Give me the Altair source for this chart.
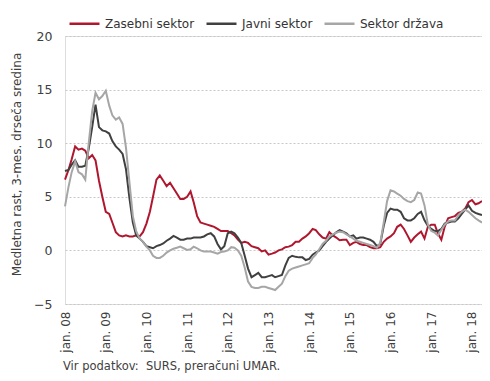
import altair as alt
import pandas as pd

# Monthly data, Jan 2008 - Apr 2018
start_month = "2008-01-01"
end_month = "2018-04-01"

zasebni = [6.6, 7.5, 8.5, 9.7, 9.4, 9.5, 9.3, 8.6, 8.9, 8.4, 6.5, 5.0,
           3.6, 3.4, 2.6, 1.7, 1.4, 1.3, 1.4, 1.3, 1.3, 1.4, 1.3, 1.7,
           2.5, 3.6, 5.0, 6.6, 7.0, 6.5, 6.0, 6.3, 5.8, 5.3, 4.8, 4.8,
           5.0, 5.5, 4.5, 3.2, 2.6, 2.5, 2.4, 2.3, 2.2, 2.0, 1.8, 1.8,
           1.8, 1.6, 1.4, 1.0, 0.7, 0.8, 0.7, 0.4, 0.3, 0.2, -0.1, 0.0,
           -0.4, -0.3, -0.2, 0.0, 0.1, 0.3, 0.35, 0.5, 0.8, 0.8, 1.1, 1.3,
           1.6, 2.0, 1.9, 1.5, 1.2, 1.1, 1.7, 1.4, 1.2, 0.95, 1.0, 1.0,
           0.5, 0.7, 0.8, 0.6, 0.5, 0.5, 0.3, 0.2, 0.2, 0.3, 0.8, 1.1,
           1.3, 1.6, 2.2, 2.4, 2.0, 1.4, 0.8, 1.2, 1.5, 1.75, 1.1, 2.2,
           2.4, 2.4, 1.6, 1.0, 2.2, 3.0, 3.1, 3.2, 3.5, 3.6, 3.9, 4.5,
           4.7, 4.3, 4.4, 4.6]

javni = [7.4, 7.5, 8.0, 8.4, 7.8, 7.8, 7.9, 9.5, 11.5, 13.6, 11.5, 11.2,
         11.1, 10.9, 10.2, 9.7, 9.4, 9.0, 7.6, 4.9, 2.6, 1.4, 1.1, 0.8,
         0.4, 0.3, 0.2, 0.4, 0.5, 0.65, 0.9, 1.1, 1.35, 1.2, 1.0, 1.0,
         1.1, 1.1, 1.2, 1.2, 1.2, 1.3, 1.5, 1.6, 1.3, 0.6, 0.1, 0.4,
         1.6, 1.75, 1.6, 1.2, 0.7, -0.5, -1.7, -2.5, -2.3, -2.1, -2.5, -2.5,
         -2.4, -2.3, -2.5, -2.4, -2.3, -1.4, -0.7, -0.5, -0.6, -0.65, -0.65, -0.9,
         -0.8, -0.4, -0.2, 0.0, 0.4, 0.8, 1.1, 1.4, 1.7, 1.9, 1.75, 1.6,
         1.3, 1.4, 1.1, 1.2, 1.2, 1.1, 1.0, 0.8, 0.4, 0.6, 2.3, 3.5,
         3.9, 3.8, 3.8, 3.6, 3.0, 2.8, 2.8, 3.0, 3.4, 3.6, 2.8, 2.3,
         2.0, 1.8, 1.8, 2.0, 2.5, 2.6, 2.7, 2.7, 3.0, 3.4, 3.8, 4.2,
         3.7, 3.5, 3.4, 3.3]

drzava = [4.1, 5.9, 7.3, 8.3, 7.3, 7.1, 6.6, 10.0, 13.0, 14.7, 14.1, 14.4,
          14.9, 13.5, 12.6, 12.2, 12.4, 11.8, 9.6, 6.4, 3.2, 1.8, 1.1, 0.8,
          0.35, 0.0, -0.5, -0.7, -0.7, -0.5, -0.2, 0.0, 0.15, 0.25, 0.35, 0.2,
          0.05, 0.1, 0.35, 0.2, 0.0, -0.1, -0.1, -0.1, -0.2, -0.3, -0.15, -0.1,
          0.0, 0.3, 0.25, 0.0, -0.5, -1.6, -2.9, -3.4, -3.5, -3.5, -3.4, -3.4,
          -3.5, -3.6, -3.7, -3.4, -3.1, -2.4, -1.9, -1.7, -1.6, -1.5, -1.4, -1.3,
          -1.2, -0.7, -0.4, 0.1, 0.6, 0.9, 1.3, 1.5, 1.65, 1.75, 1.7, 1.5,
          1.3, 1.1, 0.9, 0.8, 0.7, 0.6, 0.5, 0.4, 0.25, 0.7, 2.6, 4.6,
          5.6, 5.5, 5.3, 5.1, 4.8, 4.6, 4.5, 4.7, 5.4, 5.3, 4.2, 2.4,
          1.8, 1.65, 1.4, 1.9, 2.4, 2.7, 2.8, 2.8, 3.3, 3.6, 3.8, 3.6,
          3.3, 3.0, 2.8, 2.6]

series_names = ["Zasebni sektor", "Javni sektor", "Sektor država"]
series_colors = ["#b0172f", "#404040", "#a6a6a6"]
y_ticks = [-5, 0, 5, 10, 15, 20]
tick_years = list(range(2008, 2019))
y_title = "Medletna rast, 3-mes. drseča sredina"
source_text = "Vir podatkov:\u00a0 SURS, preračuni UMAR."

months = pd.date_range(start_month, end_month, freq="MS")
rows = []
for name, vals in zip(series_names, [zasebni, javni, drzava]):
    for d, v in zip(months, vals):
        rows.append({"date": d, "value": v, "series": name, "order": series_names.index(name)})
df = pd.DataFrame(rows)

FONT = "DejaVu Sans"

lines = alt.Chart(df).mark_line(strokeWidth=2).encode(
    x=alt.X(
        "date:T",
        scale=alt.Scale(domain=[alt.DateTime(year=2008, month=1, date=1),
                                alt.DateTime(year=2018, month=4, date=1)]),
        axis=alt.Axis(
            values=[alt.DateTime(year=y, month=1, date=1) for y in tick_years],
            format="jan. %y",
            labelAngle=270,
            labelFontSize=12,
            labelColor="#404040",
            labelPadding=7,
            ticks=False,
            grid=False,
            domain=False,
            title=None,
            labelFont=FONT,
        ),
    ),
    y=alt.Y(
        "value:Q",
        scale=alt.Scale(domain=[-5, 20], nice=False),
        axis=alt.Axis(
            values=y_ticks,
            title=y_title,
            titleFontSize=12,
            titleFontWeight="normal",
            titleColor="#404040",
            titleFont=FONT,
            titleY=128,
            titlePadding=10,
            labelFontSize=12.5,
            labelColor="#404040",
            labelFont=FONT,
            labelPadding=13,
            ticks=False,
            domain=False,
            grid=True,
            gridDash=[2, 2],
            gridColor="#c8c8c8",
            gridWidth=1,
        ),
    ),
    color=alt.Color(
        "series:N",
        scale=alt.Scale(domain=series_names, range=series_colors),
        legend=alt.Legend(
            title=None,
            orient="none",
            legendX=3,
            legendY=-29,
            direction="horizontal",
            symbolType="stroke",
            symbolSize=900,
            symbolStrokeWidth=2.5,
            labelFontSize=12,
            labelFont=FONT,
            labelColor="#333333",
            labelOffset=4,
            columnPadding=6,
        ),
    ),
    order="order:Q",
)

src_df = pd.DataFrame({"t": [source_text]})
source = alt.Chart(src_df).mark_text(
    align="left", baseline="middle", fontSize=11.5, font=FONT, color="#404040"
).encode(
    x=alt.value(-2),
    y=alt.value(331),
    text="t:N",
)

chart = alt.layer(lines, source).properties(
    width=417,
    height=268,
    autosize=alt.AutoSizeParams(type="none"),
    padding={"left": 57, "top": 28, "right": 0, "bottom": 75},
).configure_view(
    stroke="#c0c0c0", strokeWidth=1
).configure(background="white")

chart.save("out.html", embed_options={"renderer": "svg", "actions": False})
